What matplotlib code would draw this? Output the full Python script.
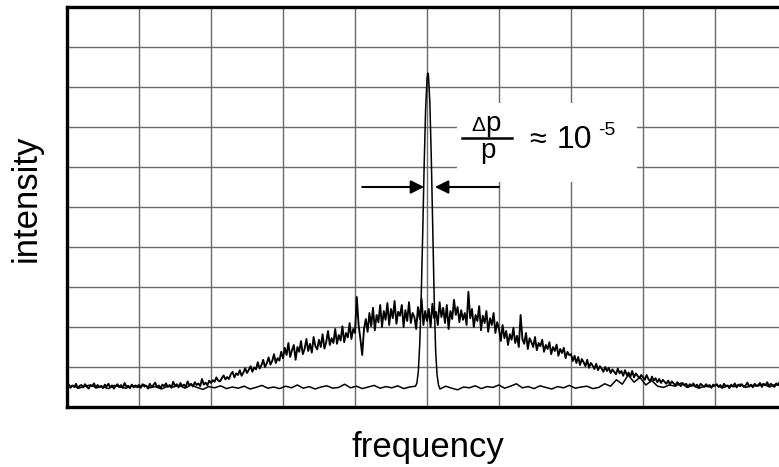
#!/usr/bin/env python3
# -*- coding: utf-8 -*-
"""
Spectrum with a broad noisy hump and a narrow resonance peak
"""

import numpy as np
import matplotlib.pyplot as plt
from matplotlib.patches import Rectangle

# broad (unresolved) trace, sampled evenly over 0..10 grid units
hump = [0.52, 0.56, 0.48, 0.54, 0.50, 0.58, 0.47, 0.53, 0.55, 0.49, 0.57, 0.51, 0.46, 0.54, 0.52, 0.59, 0.48, 0.55, 0.50, 0.53,
        0.47, 0.56, 0.51, 0.58, 0.49, 0.54, 0.46, 0.52, 0.57, 0.50, 0.55, 0.48, 0.60, 0.51, 0.53, 0.47, 0.56, 0.49, 0.54, 0.52,
        0.55, 0.48, 0.57, 0.51, 0.53, 0.46, 0.58, 0.50, 0.55, 0.61, 0.49, 0.54, 0.47, 0.56, 0.52, 0.59, 0.50, 0.55, 0.48, 0.63,
        0.53, 0.57, 0.49, 0.60, 0.52, 0.56, 0.50, 0.64, 0.54, 0.58, 0.51, 0.62, 0.55, 0.59, 0.52, 0.70, 0.56, 0.61, 0.54, 0.66,
        0.60, 0.67, 0.63, 0.74, 0.66, 0.64, 0.72, 0.79, 0.69, 0.75, 0.70, 0.82, 0.88, 0.74, 0.84, 0.80, 0.92, 0.78, 0.86, 0.97,
        0.85, 0.93, 1.02, 0.88, 0.99, 0.94, 1.12, 0.96, 1.04, 1.18, 1.00, 1.09, 1.24, 1.06, 1.15, 1.32, 1.10, 1.22, 1.16, 1.38,
        1.22, 1.48, 1.30, 1.60, 1.25, 1.42, 1.55, 1.18, 1.50, 1.38, 1.65, 1.32, 1.45, 1.70, 1.40, 1.58, 1.36, 1.75, 1.52, 1.44,
        1.68, 1.50, 1.82, 1.46, 1.62, 1.90, 1.55, 1.72, 1.60, 1.95, 1.58, 1.80, 1.66, 2.02, 1.62, 1.85, 1.74, 2.10, 1.70, 1.95,
        1.85, 2.75, 2.05, 1.70, 1.30, 1.95, 2.20, 1.88, 2.35, 2.02, 2.48, 1.92, 2.30, 2.12, 2.55, 2.00, 2.40, 2.18, 2.60, 2.05,
        2.45, 2.22, 2.65, 2.08, 2.38, 2.28, 2.55, 2.00, 2.42, 2.15, 2.62, 2.10, 2.35, 2.25, 1.95, 2.50, 2.20, 2.70, 2.05, 2.40,
        2.15, 2.45, 2.00, 2.58, 2.22, 2.38, 2.05, 2.62, 2.25, 2.48, 2.10, 2.55, 1.95, 2.40, 2.20, 2.68, 2.30, 2.50, 2.12, 2.42,
        2.18, 2.35, 2.05, 2.88, 2.22, 2.45, 2.00, 2.30, 2.15, 2.52, 1.92, 2.28, 2.10, 2.40, 1.88, 2.22, 2.05, 2.35, 1.85, 2.12,
        1.95, 1.65, 2.05, 1.72, 1.90, 1.55, 1.82, 1.68, 1.98, 1.60, 1.78, 1.50, 2.30, 1.70, 1.58, 1.85, 1.45, 1.72, 1.62, 1.50,
        1.75, 1.42, 1.60, 1.52, 1.68, 1.38, 1.55, 1.45, 1.62, 1.32, 1.50, 1.40, 1.56, 1.28, 1.45, 1.35, 1.48, 1.22, 1.38, 1.30,
        1.32, 1.15, 1.28, 1.10, 1.25, 1.05, 1.20, 1.12, 1.02, 1.18, 0.98, 1.10, 1.04, 0.95, 1.08, 0.92, 1.02, 0.96, 0.88, 1.00,
        0.90, 0.98, 0.85, 0.94, 0.88, 0.82, 0.96, 0.84, 0.90, 0.78, 0.92, 0.80, 0.86, 0.76, 0.90, 0.74, 0.84, 0.78, 0.72, 0.80,
        0.74, 0.68, 0.80, 0.70, 0.64, 0.76, 0.66, 0.72, 0.62, 0.70, 0.60, 0.68, 0.63, 0.58, 0.66, 0.56, 0.64, 0.59, 0.54, 0.62,
        0.57, 0.52, 0.60, 0.55, 0.58, 0.50, 0.57, 0.53, 0.59, 0.51, 0.56, 0.49, 0.58, 0.54, 0.50, 0.57, 0.52, 0.55, 0.48, 0.56,
        0.53, 0.57, 0.50, 0.55, 0.48, 0.58, 0.52, 0.54, 0.47, 0.56, 0.51, 0.59, 0.49, 0.55, 0.52, 0.57, 0.50, 0.54, 0.61, 0.51,
        0.56, 0.49, 0.58, 0.53, 0.55, 0.60, 0.50, 0.57, 0.54, 0.62, 0.52, 0.58, 0.55, 0.50, 0.59, 0.56, 0.63, 0.53, 0.58, 0.55,
        0.60]

# narrow (cooled) trace: baseline left of peak, the peak, baseline right of it
narrow_left = [0.49, 0.53, 0.47, 0.52, 0.55, 0.48, 0.51, 0.46, 0.54, 0.50,
               0.47, 0.53, 0.49, 0.56, 0.48, 0.51, 0.45, 0.52, 0.50, 0.54,
               0.47, 0.55, 0.49, 0.44, 0.51, 0.48, 0.53, 0.46, 0.50, 0.47,
               0.52, 0.45, 0.49, 0.54, 0.47, 0.50, 0.46, 0.52, 0.48, 0.55,
               0.47, 0.51, 0.45, 0.50, 0.53, 0.47, 0.49, 0.57, 0.48, 0.52,
               0.46, 0.50, 0.54, 0.47, 0.51, 0.48, 0.53, 0.46, 0.50, 0.52]
peak_x = [4.86, 4.88, 4.90, 4.92, 4.94, 4.96, 4.98, 5.00, 5.01,
          5.02, 5.04, 5.06, 5.08, 5.10, 5.12, 5.14, 5.16]
peak_y = [0.60, 0.90, 1.60, 2.80, 4.30, 6.00, 7.40, 8.20, 8.35,
          8.30, 7.60, 6.20, 4.40, 2.70, 1.40, 0.80, 0.55]
narrow_right = [0.45, 0.52, 0.47, 0.43, 0.50, 0.48, 0.53, 0.46, 0.51, 0.49,
                0.55, 0.47, 0.52, 0.58, 0.48, 0.51, 0.46, 0.53, 0.49, 0.45,
                0.51, 0.48, 0.54, 0.47, 0.50, 0.52, 0.46, 0.49, 0.58, 0.52,
                0.68, 0.57, 0.80, 0.62, 0.74, 0.55, 0.66, 0.52, 0.49, 0.55,
                0.52, 0.60, 0.49, 0.54, 0.47, 0.52, 0.50, 0.55, 0.48, 0.53,
                0.51, 0.57, 0.49, 0.54, 0.52, 0.58, 0.50, 0.56, 0.53, 0.55]

plt.rcParams['font.family'] = ['Liberation Sans', 'DejaVu Sans']

fig = plt.figure(figsize=(7.79, 4.67), dpi=100)
# right border of the plot runs off the picture, as in the scan
ax = fig.add_axes([67/779, 60/467, 720/779, 400/467])
ax.set_xlim(0, 10)
ax.set_ylim(0, 10)
ax.set_xticks(np.arange(0, 11))
ax.set_yticks(np.arange(0, 11))
ax.tick_params(length=0, labelbottom=False, labelleft=False)
ax.set_axisbelow(True)
ax.grid(True, color='#6a6a6a', lw=1.0)
for s in ax.spines.values():
    s.set_linewidth(2.4)
    s.set_color('k')

x_hump = np.linspace(0, 10, len(hump))
ax.plot(x_hump, hump, color='k', lw=1.35, zorder=3)

x_left = np.linspace(0, 4.84, len(narrow_left))
x_right = np.linspace(5.18, 10, len(narrow_right))
x_narrow = np.concatenate([x_left, peak_x, x_right])
y_narrow = np.concatenate([narrow_left, peak_y, narrow_right])
ax.plot(x_narrow, y_narrow, color='k', lw=1.1, zorder=3)

# white patch behind the label (grid is broken there)
ax.add_patch(Rectangle((5.42, 5.63), 2.5, 1.97, facecolor='white',
                       edgecolor='none', zorder=1.5))

# the label  dp/p ~ 10^-5
ax.text(5.71, 6.9, '\u0394', fontsize=15, ha='center', va='baseline', zorder=4)
ax.text(5.92, 6.9, 'p', fontsize=20, ha='center', va='baseline', zorder=4)
ax.plot([5.486, 6.18], [6.725, 6.725], color='k', lw=1.8, zorder=4)
ax.text(5.84, 6.225, 'p', fontsize=20, ha='center', va='baseline', zorder=4)
ax.text(6.53, 6.475, '\u2248', fontsize=22, ha='center', va='baseline', zorder=4)
ax.text(6.80, 6.475, '10', fontsize=23, ha='left', va='baseline', zorder=4)
ax.text(7.37, 6.80, '-5', fontsize=14, ha='left', va='baseline', zorder=4)

# arrows marking the width of the narrow peak
ax.annotate('', xy=(4.96, 5.5), xytext=(4.1, 5.5),
            arrowprops=dict(arrowstyle='-|>', color='k', lw=1.5,
                            mutation_scale=20, shrinkA=0, shrinkB=0))
ax.annotate('', xy=(5.11, 5.5), xytext=(6.0, 5.5),
            arrowprops=dict(arrowstyle='-|>', color='k', lw=1.5,
                            mutation_scale=20, shrinkA=0, shrinkB=0))

fig.text(26/779, 1 - 198/467, 'intensity', fontsize=25, rotation=90,
         ha='center', va='center')
fig.text(428/779, 1 - 457/467, 'frequency', fontsize=25,
         ha='center', va='baseline')

plt.savefig('out.png', dpi=100)
